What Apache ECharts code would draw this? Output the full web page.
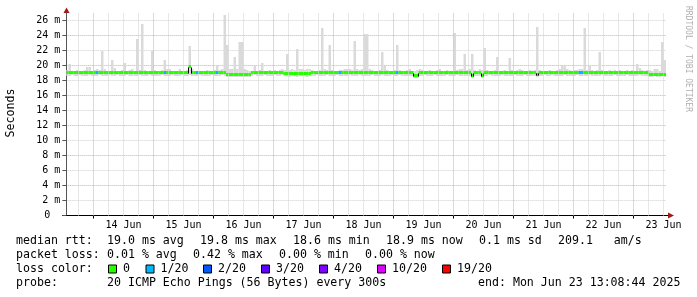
<!DOCTYPE html>
<html><head><meta charset="utf-8">
<script src="https://cdn.jsdelivr.net/npm/echarts@6/dist/echarts.min.js"></script>
<style>html,body{margin:0;padding:0;background:#fff}#c{width:697px;height:297px}</style>
</head><body><div id="c"></div>
<script>
// ---- data (hours counted from Jun 13 00:00; one bin per hour) ----
const firstBinHour = 13;
const viewStart = 13.1456;   // Jun 13 13:08:44
const viewEnd = 253.1456;    // Jun 23 13:08:44
const dayLabels = ['14 Jun','15 Jun','16 Jun','17 Jun','18 Jun','19 Jun','20 Jun','21 Jun','22 Jun','23 Jun'];
const yTickValues = [0,2,4,6,8,10,12,14,16,18,20,22,24,26];

const smokeMax = [
19.4,20.2,19.3,19.3,19.4,19.3,19.3,19.4,19.8,19.8,19.3,19.4,
19.5,19.4,22.0,19.6,19.3,19.3,20.8,19.7,19.3,19.3,19.4,20.4,
19.3,19.4,19.5,19.3,23.5,19.4,25.5,19.4,19.3,19.3,22.0,19.4,
19.3,19.3,19.4,20.7,19.6,19.6,19.3,19.3,19.3,19.5,19.3,19.3,
19.4,22.6,19.5,19.3,19.3,19.3,19.3,19.3,19.4,19.3,19.3,19.4,
20.1,19.4,19.5,26.7,22.7,19.6,19.6,21.2,19.5,23.2,23.2,19.5,
19.4,19.3,19.3,20.0,19.3,19.4,20.4,19.3,19.3,19.4,19.3,19.4,
19.3,19.4,19.6,19.4,21.6,19.4,19.5,19.4,22.2,19.5,19.6,19.4,
19.6,19.5,19.4,19.3,19.3,19.4,25.0,19.5,19.4,22.8,19.4,19.3,
19.3,19.4,19.4,19.6,19.6,19.5,19.4,23.3,19.5,19.4,19.6,24.2,
24.2,19.6,19.4,19.3,19.3,19.4,21.8,20.0,19.4,19.3,19.3,19.4,
22.8,19.4,19.3,19.3,19.4,19.6,19.3,19.3,19.4,19.6,19.4,19.3,
19.3,19.4,19.3,19.3,19.4,19.5,19.3,19.3,19.4,19.3,19.3,24.3,
19.4,19.5,19.6,21.5,19.4,19.5,21.5,19.4,19.3,19.5,19.4,22.4,
19.4,19.3,19.3,19.4,21.1,19.3,19.3,19.4,19.3,21.0,19.4,19.3,
19.4,19.6,19.4,19.3,19.3,19.4,19.3,19.4,25.2,19.4,19.3,19.3,
19.3,19.4,19.3,19.3,19.4,19.6,19.9,19.9,19.6,19.4,19.3,19.4,
19.4,19.5,19.5,25.0,19.4,19.9,19.4,19.3,19.4,21.8,19.4,19.3,
19.3,19.4,19.3,19.4,19.3,19.4,19.3,19.3,19.4,19.3,19.4,19.3,
20.2,19.7,19.4,19.3,19.4,19.4,19.3,19.5,19.5,19.3,23.2,20.8
];
const smokeMin = [
18.6,18.6,18.7,18.6,18.6,18.7,18.6,18.6,18.6,18.7,18.6,18.6,
18.6,18.7,18.6,18.6,18.6,18.7,18.6,18.6,18.7,18.6,18.6,18.6,
18.7,18.6,18.6,18.6,18.6,18.7,18.6,18.6,18.6,18.7,18.6,18.6,
18.6,18.6,18.7,18.6,18.6,18.6,18.7,18.6,18.6,18.6,18.7,18.6,
18.6,18.7,18.6,18.6,18.6,18.7,18.6,18.6,18.6,18.6,18.7,18.6,
18.6,18.6,18.7,18.6,18.45,18.45,18.5,18.45,18.45,18.5,18.45,18.45,
18.45,18.5,18.6,18.7,18.6,18.6,18.6,18.7,18.6,18.6,18.6,18.7,
18.6,18.6,18.7,18.55,18.55,18.5,18.55,18.55,18.5,18.55,18.55,18.55,
18.5,18.55,18.6,18.6,18.7,18.6,18.6,18.6,18.7,18.6,18.6,18.6,
18.7,18.6,18.6,18.6,18.6,18.7,18.6,18.6,18.6,18.7,18.6,18.6,
18.6,18.6,18.7,18.6,18.6,18.6,18.7,18.6,18.6,18.6,18.7,18.6,
18.6,18.7,18.6,18.6,18.6,18.6,18.6,18.4,18.4,18.6,18.6,18.7,
18.6,18.6,18.6,18.7,18.6,18.6,18.6,18.6,18.7,18.6,18.6,18.6,
18.7,18.6,18.6,18.6,18.6,18.6,18.4,18.6,18.6,18.6,18.4,18.6,
18.6,18.7,18.6,18.6,18.6,18.6,18.7,18.6,18.6,18.6,18.6,18.7,
18.6,18.6,18.6,18.7,18.6,18.6,18.6,18.6,18.5,18.6,18.6,18.7,
18.6,18.6,18.7,18.6,18.6,18.6,18.6,18.7,18.6,18.6,18.6,18.6,
18.7,18.6,18.6,18.6,18.6,18.7,18.6,18.6,18.6,18.6,18.7,18.6,
18.6,18.6,18.6,18.7,18.6,18.6,18.6,18.6,18.7,18.6,18.6,18.6,
18.6,18.7,18.6,18.6,18.6,18.5,18.5,18.55,18.5,18.5,18.55,18.5
];
const medianRtt = [
19.0,19.0,19.0,19.0,19.0,19.0,19.0,19.0,19.0,19.0,19.0,19.0,
19.0,19.0,19.0,19.0,19.0,19.0,19.0,19.0,19.0,19.0,19.0,19.0,
19.0,19.0,19.0,19.0,19.0,19.0,19.0,19.0,19.0,19.0,19.0,19.0,
19.0,19.0,19.0,19.0,19.0,19.0,19.0,19.0,19.0,19.0,19.0,19.0,
19.0,19.75,19.0,19.0,19.0,19.0,19.0,19.0,19.0,19.0,19.0,19.0,
19.0,19.0,19.0,19.0,18.75,18.75,18.75,18.75,18.75,18.75,18.75,18.75,
18.75,18.75,19.0,19.0,19.0,19.0,19.0,19.0,19.0,19.0,19.0,19.0,
19.0,19.0,19.0,18.85,18.85,18.85,18.85,18.85,18.85,18.85,18.85,18.85,
18.85,18.85,19.0,19.0,19.0,19.0,19.0,19.0,19.0,19.0,19.0,19.0,
19.0,19.0,19.0,19.0,19.0,19.0,19.0,19.0,19.0,19.0,19.0,19.0,
19.0,19.0,19.0,19.0,19.0,19.0,19.0,19.0,19.0,19.0,19.0,19.0,
19.0,19.0,19.0,19.0,19.0,19.0,19.0,18.6,18.6,19.0,19.0,19.0,
19.0,19.0,19.0,19.0,19.0,19.0,19.0,19.0,19.0,19.0,19.0,19.0,
19.0,19.0,19.0,19.0,19.0,19.0,18.6,19.0,19.0,19.0,18.6,19.0,
19.0,19.0,19.0,19.0,19.0,19.0,19.0,19.0,19.0,19.0,19.0,19.0,
19.0,19.0,19.0,19.0,19.0,19.0,19.0,19.0,18.7,19.0,19.0,19.0,
19.0,19.0,19.0,19.0,19.0,19.0,19.0,19.0,19.0,19.0,19.0,19.0,
19.0,19.0,19.0,19.0,19.0,19.0,19.0,19.0,19.0,19.0,19.0,19.0,
19.0,19.0,19.0,19.0,19.0,19.0,19.0,19.0,19.0,19.0,19.0,19.0,
19.0,19.0,19.0,19.0,19.0,18.8,18.8,18.8,18.8,18.8,18.8,18.8
];
// [bin index, lost pings out of 20]
const lossEvents = [[12,1],[39,1],[52,1],[60,1],[109,1],[132,1],[205,1],[206,1]];

const lossLabels = ['0','1/20','2/20','3/20','4/20','10/20','19/20'];
const lossColors = ['#26ff00','#00b8ff','#0059ff','#5e00ff','#7e00ff','#dd00ff','#ff0000'];
const rttStats = ['19.0 ms avg','19.8 ms max','18.6 ms min','18.9 ms now','0.1 ms sd','209.1   am/s'];
const lossStats = ['0.01 % avg','0.42 % max','0.00 % min','0.00 % now'];
const probeText = '20 ICMP Echo Pings (56 Bytes) every 300s';
const endText = 'end: Mon Jun 23 13:08:44 2025';
const yTitle = 'Seconds';
const sideText = 'RRDTOOL / TOBI OETIKER';

// ---- build ----
const loss = medianRtt.map(() => 0);
lossEvents.forEach(([i, n]) => { loss[i] = n; });
function lossColor(n) {
  if (n <= 0) return lossColors[0];
  if (n === 1) return lossColors[1];
  if (n === 2) return lossColors[2];
  if (n === 3) return lossColors[3];
  if (n < 10) return lossColors[4];
  if (n < 19) return lossColors[5];
  return lossColors[6];
}
const smokeData = smokeMax.map((v, i) => [firstBinHour + i, smokeMin[i], v]);
const medianData = medianRtt.map((v, i) => [firstBinHour + i, v, loss[i], i > 0 ? medianRtt[i - 1] : v]);

const midnights = [], sixHours = [], noons = [];
for (let h = 18; h <= 252; h += 6) {
  if (h % 24 === 0) midnights.push(h); else sixHours.push(h);
  if (h % 24 === 12) noons.push(h);
}
const vLines = sixHours.map(h => ({xAxis: h, lineStyle: {color: '#cfcfcf', type: [1, 1], width: 1}}))
  .concat(midnights.map(h => ({xAxis: h, lineStyle: {color: '#e8a0a0', type: [1, 1], width: 1}})));

const FONT = 'DejaVu Sans Mono';
const chart = echarts.init(document.getElementById('c'), null, {renderer: 'canvas'});

const graphics = [];
function txt(x, y, s, extra) {
  graphics.push(Object.assign({type: 'text', x, y, silent: true,
    style: {text: s, font: '11.6px "' + FONT + '"', fill: '#000', verticalAlign: 'middle'}}, extra || {}));
}
// legend line 1
txt(16, 241, 'median rtt:');
const rttX = [107, 200, 293, 386, 479, 558];
rttStats.forEach((s, k) => txt(rttX[k], 241, s));
// line 2
txt(16, 255, 'packet loss:');
const lossX = [107, 193, 279, 365];
lossStats.forEach((s, k) => txt(lossX[k], 255, s));
// line 3
txt(16, 269, 'loss color:');
const boxX = [108.5, 146, 203.5, 261.5, 319.5, 377.5, 442.5];
lossLabels.forEach((s, k) => {
  graphics.push({type: 'rect', silent: true, shape: {x: boxX[k], y: 265, width: 8, height: 8},
    style: {fill: lossColors[k], stroke: '#000', lineWidth: 1}});
  txt(boxX[k] + 14.5, 269, s);
});
// line 4
txt(16, 283, 'probe:');
txt(107, 283, probeText);
txt(478, 283, endText);
// y title
graphics.push({type: 'text', x: 11, y: 113, rotation: Math.PI / 2, silent: true,
  style: {text: yTitle, font: '11.6px "' + FONT + '"', fill: '#000', align: 'center', verticalAlign: 'middle'}});
// side text
graphics.push({type: 'text', x: 688, y: 59, rotation: -Math.PI / 2, silent: true,
  style: {text: sideText, font: '8px "' + FONT + '"', fill: '#b0b0b0', align: 'center', verticalAlign: 'middle'}});
// arrows
graphics.push({type: 'polygon', silent: true, shape: {points: [[63.5, 13], [69.5, 13], [66.5, 7.5]]}, style: {fill: '#a01818'}});
graphics.push({type: 'polygon', silent: true, shape: {points: [[668, 212.5], [668, 218.5], [674, 215.5]]}, style: {fill: '#a01818'}});
// axis extension
graphics.push({type: 'line', silent: true, shape: {x1: 62, y1: 215.5, x2: 668, y2: 215.5}, style: {stroke: '#000', lineWidth: 1}});

const option = {
  animation: false,
  backgroundColor: '#fff',
  grid: {left: 66.364, right: 30.636, top: 13, bottom: 81.5, containLabel: false},
  xAxis: {
    type: 'value', min: viewStart, max: viewEnd,
    axisLine: {show: true, lineStyle: {color: '#000', width: 1}},
    axisTick: {show: true, customValues: midnights, length: 3, lineStyle: {color: '#000'}},
    axisLabel: {customValues: noons, margin: 5, color: '#000', fontFamily: FONT, fontSize: 10,
      formatter: v => dayLabels[Math.round((v - 36) / 24)]},
    splitLine: {show: false}
  },
  yAxis: {
    type: 'value', min: 0, max: 27, interval: 1,
    axisLine: {show: true, lineStyle: {color: '#555', width: 1}},
    axisTick: {show: true, customValues: yTickValues, length: 4, lineStyle: {color: '#555'}},
    axisLabel: {customValues: yTickValues, margin: 6, color: '#000', fontFamily: FONT, fontSize: 10,
      formatter: v => v === 0 ? '{z|0}' : v + ' m',
      rich: {z: {fontFamily: FONT, fontSize: 10, color: '#000', padding: [0, 10, 0, 0]}}},
    splitLine: {show: true, lineStyle: {color: ['#e8a0a0', '#cfcfcf'], type: [1, 1], width: 1}}
  },
  series: [
    {
      type: 'line', z: 1, data: [[viewStart, -10]], symbol: 'none', showSymbol: false,
      lineStyle: {opacity: 0}, silent: true,
      markLine: {silent: true, symbol: ['none', 'none'], label: {show: false}, animation: false,
        emphasis: {disabled: true}, data: vLines}
    },
    {
      type: 'custom', z: 3, silent: true, data: smokeData,
      encode: {x: 0, y: [1, 2]},
      renderItem: function (params, api) {
        const h = api.value(0), lo = api.value(1), hi = api.value(2);
        const p1 = api.coord([h, hi]), p2 = api.coord([h + 1, lo]);
        const cs = params.coordSys;
        const r = echarts.graphic.clipRectByRect(
          {x: p1[0], y: Math.round(p1[1]), width: p2[0] - p1[0], height: Math.round(p2[1]) - Math.round(p1[1])},
          {x: cs.x, y: cs.y, width: cs.width, height: cs.height});
        if (!r) return null;
        return {type: 'rect', shape: r, style: {fill: '#dadada'}};
      }
    },
    {
      type: 'custom', z: 4, silent: true, data: medianData,
      encode: {x: 0, y: 1},
      renderItem: function (params, api) {
        const h = api.value(0), m = api.value(1), n = api.value(2), prev = api.value(3);
        const p1 = api.coord([h, m]), p2 = api.coord([h + 1, m]);
        const cs = params.coordSys;
        const top = Math.floor(p1[1] - 1.5);
        const r = echarts.graphic.clipRectByRect(
          {x: p1[0], y: top, width: p2[0] - p1[0], height: 3},
          {x: cs.x, y: cs.y, width: cs.width, height: cs.height});
        const children = [];
        if (r) children.push({type: 'rect', shape: r, style: {fill: lossColor(n)}});
        if (Math.abs(m - prev) >= 0.3) {
          const pp = api.coord([h, prev]);
          const xx = Math.floor(p1[0]) + 0.5;
          children.push({type: 'line', shape: {x1: xx, y1: Math.floor(pp[1]) + 0.5, x2: xx, y2: Math.floor(p1[1]) + 0.5},
            style: {stroke: '#000', lineWidth: 1}});
        }
        return {type: 'group', children};
      }
    }
  ],
  graphic: graphics
};
chart.setOption(option);
</script>
</body></html>
